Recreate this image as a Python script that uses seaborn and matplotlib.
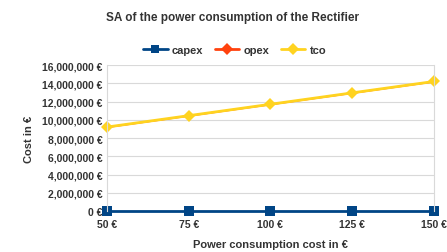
import matplotlib
matplotlib.use("Agg")
import matplotlib.pyplot as plt
import seaborn as sns
import pandas as pd
from matplotlib.ticker import FuncFormatter

categories = ["50 €", "75 €", "100 €", "125 €", "150 €"]
capex = [30000, 30000, 30000, 30000, 30000]
opex = [9170000, 10420000, 11670000, 12920000, 14170000]
tco = [9200000, 10450000, 11700000, 12950000, 14200000]

sns.set_theme(style="white")
plt.rcParams['font.family'] = ['Liberation Sans', 'DejaVu Sans']

rows = []
for name, vals in [("capex", capex), ("opex", opex), ("tco", tco)]:
    for i, v in enumerate(vals):
        rows.append({"pos": i, "cat": categories[i], "value": v, "series": name})
df = pd.DataFrame(rows)

fig = plt.figure(figsize=(4.47, 2.53), dpi=100)
ax = fig.add_axes([0.239, 0.162, 0.732, 0.577])

palette = {"capex": "#004586", "opex": "#ff420e", "tco": "#ffd320"}
markers = {"capex": "s", "opex": "D", "tco": "D"}
sns.lineplot(data=df, x="pos", y="value", hue="series", style="series",
             palette=palette, markers=markers, dashes=False, markersize=6,
             markeredgewidth=0, linewidth=2.0, ax=ax, legend=True)

sizes = {"capex": 6.5, "opex": 4, "tco": 6.5}
for ln, name in zip(ax.lines[:3], ["capex", "opex", "tco"]):
    ln.set_markersize(sizes[name])
    if name == "opex":
        ln.set_linewidth(1.2)

ax.set_xlim(0, len(categories) - 1)
ax.set_ylim(0, 16000000)
ax.set_xticks(range(len(categories)))
ax.set_xticklabels(categories)
ax.set_yticks(range(0, 16000001, 2000000))
ax.yaxis.set_major_formatter(FuncFormatter(lambda v, p: f"{int(v):,} €"))
ax.grid(axis="y", color="#d9d9d9", linewidth=0.8)
for s in ["top", "bottom"]:
    ax.spines[s].set_visible(False)
for s in ["left", "right"]:
    ax.spines[s].set_color("#d9d9d9")
    ax.spines[s].set_linewidth(0.8)
for ln in ax.lines:
    ln.set_clip_on(False)
ax.tick_params(axis="y", length=0, labelsize=7.5, colors="#333333", pad=3)
ax.tick_params(axis="x", length=0, labelsize=7.5, colors="#333333", pad=6)
for lab in ax.get_xticklabels() + ax.get_yticklabels():
    lab.set_fontweight("bold")

ax.set_xlabel("Power consumption cost in €", fontsize=8, fontweight="bold", color="#333333", labelpad=7)
ax.set_ylabel("Cost in €", fontsize=8, fontweight="bold", color="#333333", labelpad=6)

fig.text(0.52, 0.93, "SA of the power consumption of the Rectifier", ha="center", va="center",
         fontsize=8.5, fontweight="bold", color="#333333")

handles, labels = ax.get_legend_handles_labels()
leg = ax.legend(handles, labels, loc="center", bbox_to_anchor=(0.525, 0.80),
                bbox_transform=fig.transFigure, ncol=3, frameon=False,
                fontsize=8, handlelength=2.2, columnspacing=1.0, handletextpad=0.4)
for t in leg.get_texts():
    t.set_fontweight("bold")
    t.set_color("#333333")

fig.savefig("out.png", dpi=100)
